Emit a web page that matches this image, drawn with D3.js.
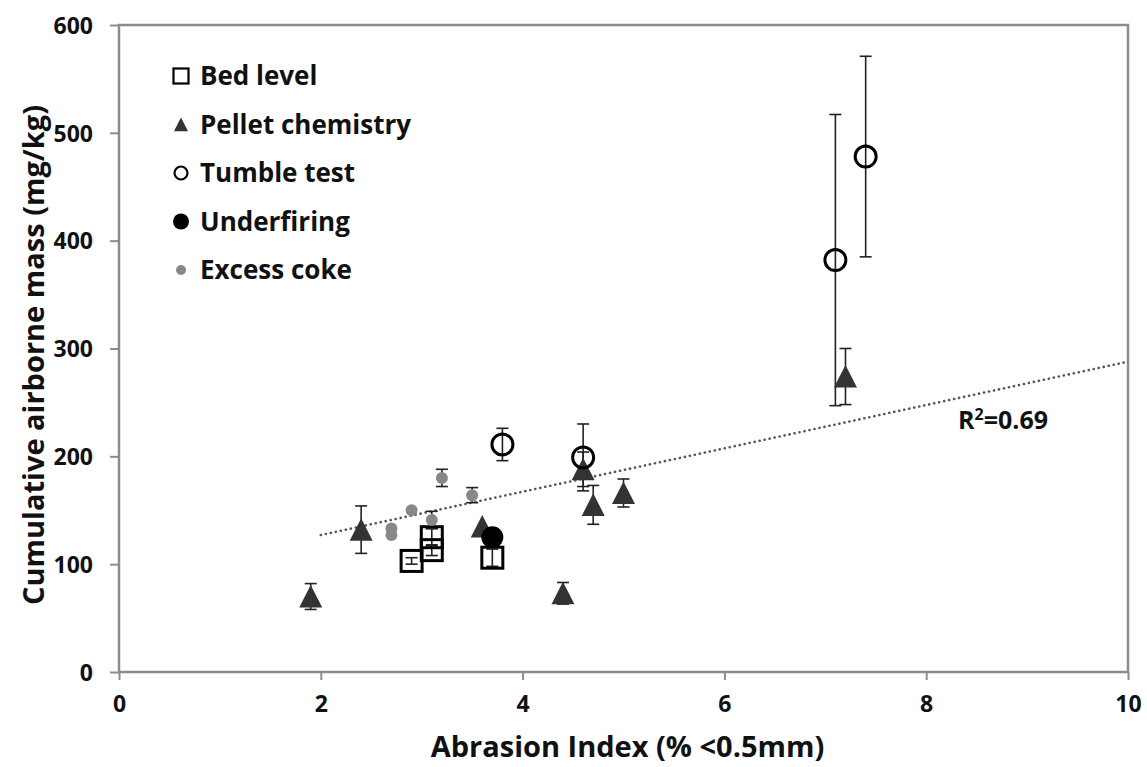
<!DOCTYPE html>
<meta charset="utf-8">
<style>
  body { margin: 0; background: #fff; }
  text { font-family: 'Open Sans', sans-serif; font-weight: bold; fill: #111; }
  .frame { fill: none; stroke: #8c8c8c; stroke-width: 2.5; }
  .tick line { stroke: #8c8c8c; stroke-width: 2; }
  .err { stroke: #222; stroke-width: 1.6; fill: none; }
  .trend { stroke: #555; stroke-width: 2.6; stroke-dasharray: 0.1 5; stroke-linecap: round; fill: none; }
</style>
<body>
<script src="https://d3js.org/d3.v7.min.js"></script>
<script>

// x = abrasion index, y = airborne mass, e = error (+/-)
var bedLevel = [
  {x: 2.9, y: 103, e: 3},
  {x: 3.1, y: 125, e: 8},
  {x: 3.1, y: 113, e: 5},
  {x: 3.7, y: 106, e: 8}
];
var pelletChem = [
  {x: 1.9, y: 70, e: 12},
  {x: 2.4, y: 132, e: 22},
  {x: 3.6, y: 135, e: 0},
  {x: 4.4, y: 73, e: 10},
  {x: 4.6, y: 188, e: 16},
  {x: 4.7, y: 155, e: 18},
  {x: 5.0, y: 166, e: 13},
  {x: 7.2, y: 274, e: 26}
];
var tumbleTest = [
  {x: 3.8, y: 211, e: 15},
  {x: 4.6, y: 199, e: 31},
  {x: 7.1, y: 382, e: 135},
  {x: 7.4, y: 478, e: 93}
];
var underfiring = [
  {x: 3.7, y: 125, e: 0}
];
var excessCoke = [
  {x: 2.7, y: 133, e: 0},
  {x: 2.7, y: 127, e: 0},
  {x: 2.9, y: 150, e: 0},
  {x: 3.1, y: 141, e: 8},
  {x: 3.2, y: 180, e: 8},
  {x: 3.5, y: 164, e: 7}
];

var xTicks = [0, 2, 4, 6, 8, 10];
var yTicks = [0, 100, 200, 300, 400, 500, 600];
var trendSlope = 20.1, trendIntercept = 86.8, trendRange = [2, 10];
var legendNames = ["Bed level", "Pellet chemistry", "Tumble test", "Underfiring", "Excess coke"];

var width = 1147, height = 767;
var margin = {top: 25, right: 19, bottom: 95, left: 119};

var x = d3.scaleLinear().domain([0, 10]).range([margin.left, width - margin.right]);
var y = d3.scaleLinear().domain([0, 600]).range([height - margin.bottom, margin.top]);

var svg = d3.select("body").append("svg")
    .attr("width", width)
    .attr("height", height);

// axes
svg.append("g")
    .attr("transform", "translate(0," + y(0) + ")")
    .call(d3.axisBottom(x).tickValues(xTicks).tickSize(8).tickPadding(16).tickFormat(d3.format("d")))
    .call(g => g.select(".domain").remove())
    .selectAll("text")
    .style("font-size", "23px").style("font-family", "'Open Sans', sans-serif").style("font-weight", "bold");

svg.append("g")
    .attr("transform", "translate(" + x(0) + ",0)")
    .call(d3.axisLeft(y).tickValues(yTicks).tickSize(9).tickPadding(17).tickFormat(d3.format("d")))
    .call(g => g.select(".domain").remove())
    .selectAll("text").attr("dy", "0.36em")
    .style("font-size", "23px").style("font-family", "'Open Sans', sans-serif").style("font-weight", "bold");

svg.append("rect")
    .attr("class", "frame")
    .attr("x", x(0)).attr("y", y(600))
    .attr("width", x(10) - x(0))
    .attr("height", y(0) - y(600));

// titles
svg.append("text")
    .attr("x", (x(0) + x(10)) / 2 + 4)
    .attr("y", 757)
    .attr("text-anchor", "middle")
    .style("font-size", "29px")
    .text("Abrasion Index (% <0.5mm)");

svg.append("text")
    .attr("transform", "translate(44,355) rotate(-90)")
    .attr("text-anchor", "middle")
    .style("font-size", "29px")
    .text("Cumulative airborne mass (mg/kg)");

// trendline
svg.append("line")
    .attr("class", "trend")
    .attr("x1", x(trendRange[0])).attr("y1", y(trendIntercept + trendSlope * trendRange[0]))
    .attr("x2", x(trendRange[1])).attr("y2", y(trendIntercept + trendSlope * trendRange[1]));

svg.append("text")
    .attr("x", 958).attr("y", 429)
    .style("font-size", "25px")
    .html('R<tspan dy="-9" style="font-size:16px">2</tspan><tspan dy="9">=0.69</tspan>');

function errorBars(data) {
  var g = svg.append("g");
  data.filter(d => d.e > 0).forEach(function(d) {
    var cx = x(d.x), t = y(d.y + d.e), b = y(d.y - d.e);
    g.append("line").attr("class", "err").attr("x1", cx).attr("x2", cx).attr("y1", t).attr("y2", b);
    g.append("line").attr("class", "err").attr("x1", cx - 6).attr("x2", cx + 6).attr("y1", t).attr("y2", t);
    g.append("line").attr("class", "err").attr("x1", cx - 6).attr("x2", cx + 6).attr("y1", b).attr("y2", b);
  });
}

function triangle(s) {
  return "M0," + (-s * 0.5) + "L" + (s * 0.5) + "," + (s * 0.48) + "L" + (-s * 0.5) + "," + (s * 0.48) + "Z";
}

errorBars(bedLevel);
errorBars(pelletChem);
errorBars(tumbleTest);
errorBars(excessCoke);

svg.append("g").selectAll("rect").data(bedLevel).enter().append("rect")
    .attr("x", d => x(d.x) - 10.5).attr("y", d => y(d.y) - 10.5)
    .attr("width", 21).attr("height", 21)
    .attr("fill", "none").attr("stroke", "#000").attr("stroke-width", 3);

svg.append("g").selectAll("path").data(pelletChem).enter().append("path")
    .attr("transform", d => "translate(" + x(d.x) + "," + y(d.y) + ")")
    .attr("d", triangle(23))
    .attr("fill", "#333");

svg.append("g").selectAll("circle").data(tumbleTest).enter().append("circle")
    .attr("cx", d => x(d.x)).attr("cy", d => y(d.y)).attr("r", 10.5)
    .attr("fill", "none").attr("stroke", "#000").attr("stroke-width", 3);

svg.append("g").selectAll("circle").data(underfiring).enter().append("circle")
    .attr("cx", d => x(d.x)).attr("cy", d => y(d.y)).attr("r", 11)
    .attr("fill", "#000");

svg.append("g").selectAll("circle").data(excessCoke).enter().append("circle")
    .attr("cx", d => x(d.x)).attr("cy", d => y(d.y)).attr("r", 6)
    .attr("fill", "#888");

// legend
var leg = svg.append("g").attr("transform", "translate(181,76)");
var rowH = 48.5;
legendNames.forEach(function(name, i) {
  var row = leg.append("g").attr("transform", "translate(0," + (i * rowH) + ")");
  if (i === 0) row.append("rect").attr("x", -7.5).attr("y", -7.5).attr("width", 15).attr("height", 15)
      .attr("fill", "none").attr("stroke", "#000").attr("stroke-width", 2.2);
  if (i === 1) row.append("path").attr("d", triangle(14)).attr("fill", "#333");
  if (i === 2) row.append("circle").attr("r", 6.5).attr("fill", "none").attr("stroke", "#000").attr("stroke-width", 2.2);
  if (i === 3) row.append("circle").attr("r", 8).attr("fill", "#000");
  if (i === 4) row.append("circle").attr("r", 5).attr("fill", "#888");
  row.append("text").attr("x", 19).attr("dy", "0.35em").style("font-size", "26px").text(name);
});

</script>
</body>
